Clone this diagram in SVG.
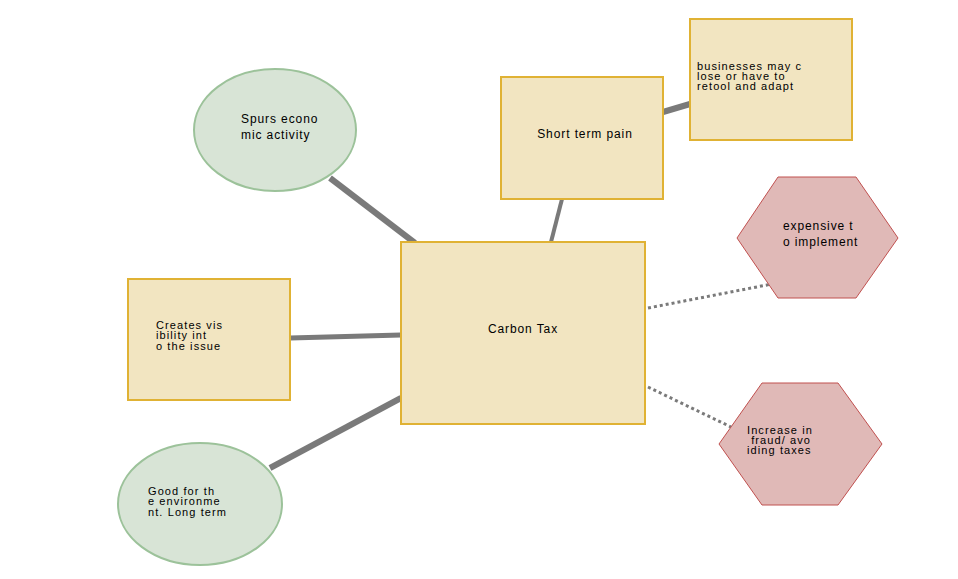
<svg xmlns="http://www.w3.org/2000/svg" width="958" height="579" viewBox="0 0 958 579">
  <style>
    text { font-family: "Liberation Sans", Arial, sans-serif; font-size: 12px; fill: #000; letter-spacing: 0.9px; }
    text.tight { font-size: 11px; letter-spacing: 1.1px; }
    .box { fill: #f2e5c1; stroke: #e0b234; stroke-width: 2; }
    .oval { fill: #d8e4d6; stroke: #9cc29a; stroke-width: 2; }
    .hex { fill: #e0b9b7; stroke: #c0504f; stroke-width: 1; }
    .link { stroke: #7a7a7a; fill: none; }
    .dot { stroke: #7a7a7a; fill: none; stroke-width: 3; stroke-dasharray: 3 3; }
  </style>
  <rect width="958" height="579" fill="#fff"/>

  <g id="connectors">
    <line class="link" x1="330" y1="178" x2="415" y2="243" stroke-width="6"/>
    <line class="link" x1="562" y1="199" x2="551" y2="242" stroke-width="4"/>
    <line class="link" x1="663" y1="112" x2="690" y2="104" stroke-width="6"/>
    <line class="link" x1="290" y1="338" x2="401" y2="335" stroke-width="5"/>
    <line class="link" x1="270" y1="468" x2="401" y2="398" stroke-width="6"/>
    <line class="dot" x1="648" y1="308" x2="772" y2="284"/>
    <line class="dot" x1="648" y1="387" x2="731" y2="427"/>
  </g>

  <g id="carbon-tax">
    <rect class="box" x="401" y="242" width="244" height="182"/>
    <text x="523" y="333" text-anchor="middle">Carbon Tax</text>
  </g>

  <g id="short-term-pain">
    <rect class="box" x="501" y="77" width="162" height="122"/>
    <text x="585" y="138" text-anchor="middle">Short term pain</text>
  </g>

  <g id="businesses">
    <rect class="box" x="690" y="19" width="162" height="121"/>
    <text class="tight" x="697" y="70">businesses may c<tspan x="697" y="80">lose or have to</tspan><tspan x="697" y="90">retool and adapt</tspan></text>
  </g>

  <g id="spurs">
    <ellipse class="oval" cx="275" cy="130" rx="81" ry="61"/>
    <text x="241" y="123">Spurs econo<tspan x="241" y="139">mic activity</tspan></text>
  </g>

  <g id="creates-visibility">
    <rect class="box" x="128" y="279" width="162" height="121"/>
    <text class="tight" x="156" y="329">Creates vis<tspan x="156" y="339">ibility int</tspan><tspan x="156" y="350">o the issue</tspan></text>
  </g>

  <g id="good-for-environment">
    <ellipse class="oval" cx="200" cy="504" rx="82" ry="61" stroke-width="3"/>
    <text class="tight" x="148" y="495">Good for th<tspan x="148" y="505">e environme</tspan><tspan x="148" y="516">nt. Long term</tspan></text>
  </g>

  <g id="expensive">
    <polygon class="hex" points="778,177 856,177 898,238 856,298 778,298 737,238"/>
    <text x="783" y="230">expensive t<tspan x="783" y="246">o implement</tspan></text>
  </g>

  <g id="fraud">
    <polygon class="hex" points="762,383 838,383 882,444 838,505 762,505 719,444" stroke-width="2"/>
    <text class="tight" x="747" y="434">Increase in<tspan x="747" y="444" xml:space="preserve"> fraud/ avo</tspan><tspan x="747" y="454">iding taxes</tspan></text>
  </g>
</svg>
